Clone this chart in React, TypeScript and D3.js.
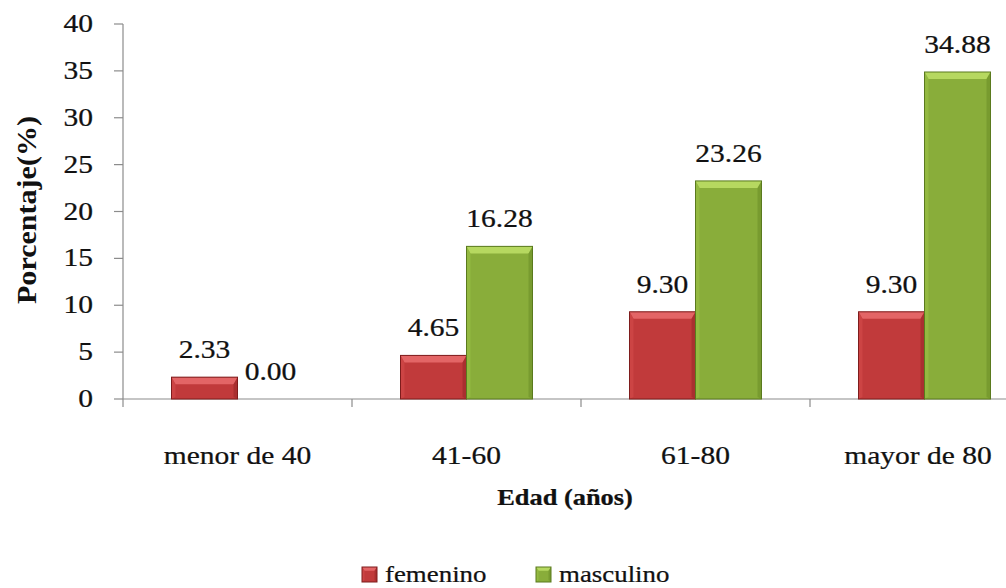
import React from "react";
import * as d3 from "d3";

const categories = ["menor de 40", "41-60", "61-80", "mayor de 80"];
const seriesNames = ["femenino", "masculino"];
const femenino = [2.33, 4.65, 9.3, 9.3];
const masculino = [0.0, 16.28, 23.26, 34.88];
const yTicks = [0, 5, 10, 15, 20, 25, 30, 35, 40];

const W = 1006;
const H = 588;
const FONT = "'Liberation Serif', Tinos, 'Times New Roman', Times, serif";
const SX = 1.18;

const palettes = [
  { face: "#c13a3b", light: "#e36566", dark: "#7e1c1c", mid: "#d04848" },
  { face: "#89ad3a", light: "#b6d860", dark: "#5a7a1e", mid: "#98bd45" },
];

function Bar({ x, y, w, h, p }: { x: number; y: number; w: number; h: number; p: any }) {
  if (h <= 0.5) return null;
  const b = Math.min(7, h / 2, w / 4);
  const s = Math.min(4, w / 6);
  return (
    <g>
      <rect x={x} y={y} width={w} height={h} fill={p.face} />
      <polygon points={`${x},${y} ${x + w},${y} ${x + w - s},${y + b} ${x + s},${y + b}`} fill={p.light} />
      <polygon points={`${x},${y} ${x + s},${y + b} ${x + s},${y + h - 2} ${x},${y + h}`} fill={p.mid} opacity={0.7} />
      <polygon points={`${x + w},${y} ${x + w - s},${y + b} ${x + w - s},${y + h - 2} ${x + w},${y + h}`} fill={p.dark} opacity={0.35} />
      <rect x={x} y={y} width={w} height={h} fill="none" stroke={p.dark} strokeWidth={1} />
    </g>
  );
}

function SText({ x, y, size, anchor, bold, children, sx = SX }: any) {
  return (
    <g transform={`translate(${x},${y}) scale(${sx},1)`}>
      <text x={0} y={0} fontFamily={FONT} fontSize={size} fontWeight={bold ? "bold" : "normal"} textAnchor={anchor} fill="#111" stroke="#111" strokeWidth={0.25}>
        {children}
      </text>
    </g>
  );
}

export default function App() {
  const x0 = 123;
  const band = 229;
  const yBase = 399;
  const yTop = 24;
  const xScale = d3.scaleBand<string>().domain(categories).range([x0, x0 + band * categories.length]).padding(0);
  const y = d3.scaleLinear().domain([0, 40]).range([yBase, yTop]);
  const groupW = 132;
  const inner = d3.scaleBand<string>().domain(seriesNames).range([0, groupW]).padding(0);
  const series = [femenino, masculino];
  const fmt = d3.format(".2f");

  return (
    <svg width={W} height={H} style={{ position: "absolute", left: 0, top: 0, background: "#fff" }}>
      {/* y axis */}
      <line x1={x0} y1={y(40)} x2={x0} y2={yBase + 8} stroke="#8c8c8c" strokeWidth={1.2} />
      {yTicks.map((t) => (
        <g key={t}>
          <line x1={x0 - 9} x2={x0} y1={y(t)} y2={y(t)} stroke="#8c8c8c" strokeWidth={1.2} />
          <SText x={93} y={y(t) + 8} size={25} anchor="end">
            {t}
          </SText>
        </g>
      ))}
      {/* x axis */}
      <line x1={x0} x2={W} y1={yBase} y2={yBase} stroke="#8c8c8c" strokeWidth={1.2} />
      {categories.slice(1).map((c) => (
        <line key={c} x1={xScale(c)!} x2={xScale(c)!} y1={yBase} y2={yBase + 8} stroke="#8c8c8c" strokeWidth={1.2} />
      ))}
      {/* bars */}
      {categories.map((c, i) => {
        const cx = xScale(c)! + xScale.bandwidth() / 2;
        const gx = cx - groupW / 2;
        return (
          <g key={c}>
            {series.map((vals, si) => {
              const bx = gx + inner(seriesNames[si])!;
              const bw = inner.bandwidth();
              const v = vals[i];
              return (
                <g key={si}>
                  <Bar x={bx} y={y(v)} w={bw} h={yBase - y(v)} p={palettes[si]} />
                  <SText x={bx + bw / 2} y={y(v) - 19} size={25} anchor="middle">
                    {fmt(v)}
                  </SText>
                </g>
              );
            })}
            <SText x={Math.min(cx, 918)} y={464} size={25} anchor="middle">
              {c}
            </SText>
          </g>
        );
      })}
      {/* axis titles */}
      <g transform={`translate(36,210) scale(1.15,1) rotate(-90)`}>
        <text x={0} y={0} fontFamily={FONT} fontSize={24} fontWeight="bold" textAnchor="middle" fill="#111" textLength={188} lengthAdjust="spacingAndGlyphs">
          Porcentaje(%)
        </text>
      </g>
      <SText x={565} y={505} size={24} anchor="middle" bold sx={1.1}>
        Edad (años)
      </SText>
      {/* legend */}
      {seriesNames.map((s, i) => {
        const lx = [362, 536][i];
        return (
          <g key={s}>
            <Bar x={lx} y={567} w={15} h={15} p={palettes[i]} />
            <SText x={lx + 23} y={582} size={24} anchor="start" sx={1.12}>
              {s}
            </SText>
          </g>
        );
      })}
    </svg>
  );
}
